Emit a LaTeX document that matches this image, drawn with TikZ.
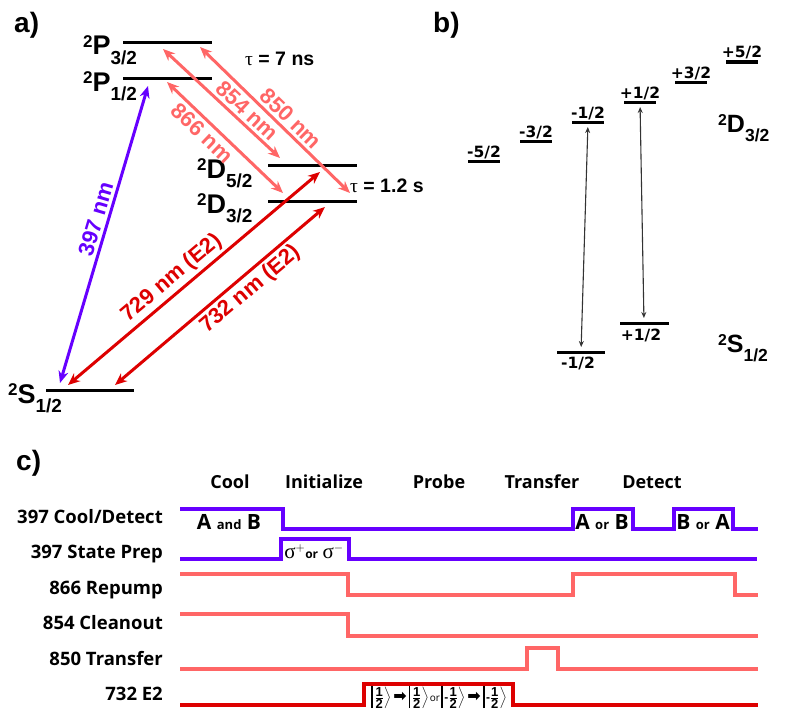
\documentclass[tikz,border=0pt]{standalone}
\usepackage{amsmath}
\usepackage{fontspec}
\setmainfont{Liberation Sans}
\newfontfamily\seqfont{Open Sans}
\newfontfamily\dvfont{DejaVu Sans}
\newfontfamily\serfont{Liberation Serif}
\usetikzlibrary{arrows.meta}

\definecolor{uvviolet}{RGB}{102,0,255}
\definecolor{irsalmon}{RGB}{255,102,102}
\definecolor{eqred}{RGB}{221,0,0}

\newcommand{\sizeto}[1]{\fontsize{#1}{#1}\selectfont}
% term symbol: superscript 2, letter, lowered J
\newcommand{\termsym}[3]{{\sizeto{\fpeval{0.63*#3}}\raisebox{\fpeval{0.26*#3}pt}{2}}#1{\sizeto{\fpeval{0.7*#3}}\raisebox{-\fpeval{0.37*#3}pt}{#2}}}
\newcommand{\taufont}{{\serfont\mdseries τ}}
% |1/2> with heavy bar
\newcommand{\halfket}[1]{\rule[-7pt]{1.8pt}{22pt}\hspace{1.5pt}#1$\genfrac{}{}{0.9pt}{1}{\textstyle\mathbf{1}}{\textstyle\mathbf{2}}\Big\rangle$}
\newcommand{\fatarrow}{\hspace{2pt}{\dvfont\sizeto{16}\char"27A1}\hspace{2pt}}

\begin{document}
\begin{tikzpicture}[x=1pt, y=-1pt, >={Stealth[length=12pt,width=10pt]},
    tag/.style={font=\bfseries\sizeto{28}, anchor=base west, inner sep=0pt},
    level/.style={line width=3pt},
    termlbl/.style={font=\bfseries\sizeto{27}, anchor=base west, inner sep=0pt},
    laser/.style={<->, line width=3pt},
    nmlbl/.style={font=\bfseries\sizeto{22}, inner sep=3pt, sloped},
    sublvl/.style={line width=3pt},
    mlbl/.style={font=\dvfont\bfseries\sizeto{15.5}, inner sep=0pt, anchor=base},
    zeeman/.style={<->, >={Stealth[length=6pt,width=5pt]}, line width=1.1pt, black!80},
    hdr/.style={font=\seqfont\bfseries\sizeto{18}, anchor=base, inner sep=0pt},
    rowlbl/.style={font=\seqfont\bfseries\sizeto{18.5}, anchor=base east, inner sep=0pt},
    trace/.style={line width=3.5pt}]

\useasboundingbox (0,0) rectangle (797,725);

% ============================
% a) Level scheme
% ============================
\node[tag] (taga) at (14,33) {a)};

\coordinate (P32l) at (123,43);  \coordinate (P32r) at (212,43);
\coordinate (P12l) at (123,78);  \coordinate (P12r) at (212,78);
\coordinate (D52l) at (268,165); \coordinate (D52r) at (357,165);
\coordinate (D32l) at (268,201); \coordinate (D32r) at (357,201);
\coordinate (S12l) at (46,390);  \coordinate (S12r) at (134,390);

\draw[level] (P32l) -- (P32r);
\draw[level] (P12l) -- (P12r);
\draw[level] (D52l) -- (D52r);
\draw[level] (D32l) -- (D32r);
\draw[level] (S12l) -- (S12r);

\node[termlbl] (P32t) at (83,55)  {\termsym{P}{3/2}{27}};
\node[termlbl] (P12t) at (83,91)  {\termsym{P}{1/2}{27}};
\node[termlbl] (D52t) at (197,178) {\termsym{D}{5/2}{27}};
\node[termlbl] (D32t) at (197,213) {\termsym{D}{3/2}{27}};
\node[termlbl] (S12t) at (8,403)  {\termsym{S}{1/2}{27}};

\node[font=\bfseries\sizeto{19.5}, anchor=base west, inner sep=0pt] (tauP) at (245,65) {\taufont{} = 7 ns};
\node[font=\bfseries\sizeto{19.5}, anchor=base west, inner sep=0pt] (tauD) at (350,192) {\taufont{} = 1.2 s};

% arrow ends
\coordinate (s397) at (60,383);  \coordinate (p397) at (148,86);
\coordinate (p866) at (167,82);  \coordinate (d866) at (283,193);
\coordinate (p854) at (163,49);  \coordinate (d854) at (280,158);
\coordinate (p850) at (200,47);  \coordinate (d850) at (350,193);
\coordinate (s729) at (68,385);  \coordinate (d729) at (320,172);
\coordinate (s732) at (115,385); \coordinate (d732) at (325,207);

\draw[laser, uvviolet] (s397) -- node[nmlbl, above, pos=0.54] {397 nm} (p397);
\draw[laser, irsalmon] (p866) -- node[nmlbl, below, pos=0.38] {866 nm} (d866);
\draw[laser, irsalmon] (p854) -- node[nmlbl, above, pos=0.65] {854 nm} (d854);
\draw[laser, irsalmon] (p850) -- node[nmlbl, above, pos=0.55] {850 nm} (d850);
\draw[laser, eqred] (s729) -- node[nmlbl, above, pos=0.45] {729 nm (E2)} (d729);
\draw[laser, eqred] (s732) -- node[nmlbl, below, pos=0.6] {732 nm (E2)} (d732);

% ============================
% b) Zeeman sublevels
% ============================
\node[tag] (tagb) at (433,33) {b)};

\foreach \num/\nm/\x/\y in {-5/Dm5/484/161, -3/Dm3/536/141, -1/Dm1/588/122,
                            +1/Dp1/640/102, +3/Dp3/691/82, +5/Dp5/742/62} {
  \coordinate (\nm) at (\x,\y);
  \draw[sublvl] (\x-16,\y) -- (\x+16,\y);
  \node[mlbl] at (\x,\y-4) {\num/2};
}

\coordinate (Sm1) at (581,352);
\coordinate (Sp1) at (644,323);
\draw[sublvl] (557,352) -- (605,352);
\draw[sublvl] (620,323) -- (669,323);
\node[mlbl] (Sm1t) at (578,368) {-1/2};
\node[mlbl] (Sp1t) at (641,340) {+1/2};

\node[termlbl, font=\bfseries\sizeto{25}] (D32b) at (718,132) {\termsym{D}{3/2}{25}};
\node[termlbl, font=\bfseries\sizeto{25}] (S12b) at (718,352) {\termsym{S}{1/2}{25}};

\draw[zeeman, shorten <=5pt, shorten >=5pt] (Dm1) -- (Sm1);
\draw[zeeman, shorten <=5pt, shorten >=5pt] (Dp1) -- (Sp1);

% ============================
% c) Pulse sequence
% ============================
\node[tag] (tagc) at (16,470) {c)};

\node[hdr] (hcool)  at (230,488) {Cool};
\node[hdr] (hinit)  at (324,488) {Initialize};
\node[hdr] (hprobe) at (439,488) {Probe};
\node[hdr] (htrans) at (542,488) {Transfer};
\node[hdr] (hdet)   at (652,488) {Detect};

\node[rowlbl] (r1) at (163,523) {397 Cool/Detect};
\node[rowlbl] (r2) at (163,558) {397 State Prep};
\node[rowlbl] (r3) at (163,594) {866 Repump};
\node[rowlbl] (r4) at (163,629) {854 Cleanout};
\node[rowlbl] (r5) at (163,665) {850 Transfer};
\node[rowlbl] (r6) at (163,700) {732 E2};

\draw[trace, uvviolet] (180,509) -- (283,509) -- (283,529) -- (573,529) -- (573,509)
    -- (633,509) -- (633,529) -- (674,529) -- (674,509) -- (733,509) -- (733,529) -- (758,529);
\draw[trace, uvviolet] (180,559) -- (281,559) -- (281,539) -- (349,539) -- (349,559) -- (757,559);
\draw[trace, irsalmon] (180,574) -- (348,574) -- (348,595) -- (573,595) -- (573,574)
    -- (735,574) -- (735,595) -- (758,595);
\draw[trace, irsalmon] (180,614) -- (348,614) -- (348,636) -- (758,636);
\draw[trace, irsalmon] (180,669) -- (527,669) -- (527,648) -- (558,648) -- (558,669) -- (758,669);
\draw[trace, eqred] (180,705) -- (364,705) -- (364,684) -- (513,684) -- (513,705) -- (758,705);

\node[font=\seqfont\bfseries\sizeto{21}, anchor=base, inner sep=0pt] (ab1) at (229,529)
    {A {\sizeto{13}and} B};
\node[font=\seqfont\bfseries\sizeto{21}, anchor=base, inner sep=0pt] (ab2) at (602,529)
    {A {\sizeto{13}or} B};
\node[font=\seqfont\bfseries\sizeto{21}, anchor=base, inner sep=0pt] (ab3) at (703,529)
    {B {\sizeto{13}or} A};
\node[font=\seqfont\bfseries\sizeto{17}, anchor=base, inner sep=0pt] (sig) at (314,558)
    {{\serfont\mdseries\sizeto{21}σ}$^{+}${\sizeto{12}or} {\serfont\mdseries\sizeto{21}σ}$^{-}$};
\node[font=\bfseries\sizeto{13}, anchor=base, inner sep=0pt] (kets) at (439,701)
    {\halfket{}\fatarrow\halfket{}\hspace{1pt}{\seqfont\mdseries\sizeto{10}or}\hspace{1pt}\halfket{{\sizeto{12}-}}\fatarrow\halfket{{\sizeto{12}-}}};

\end{tikzpicture}
\end{document}
